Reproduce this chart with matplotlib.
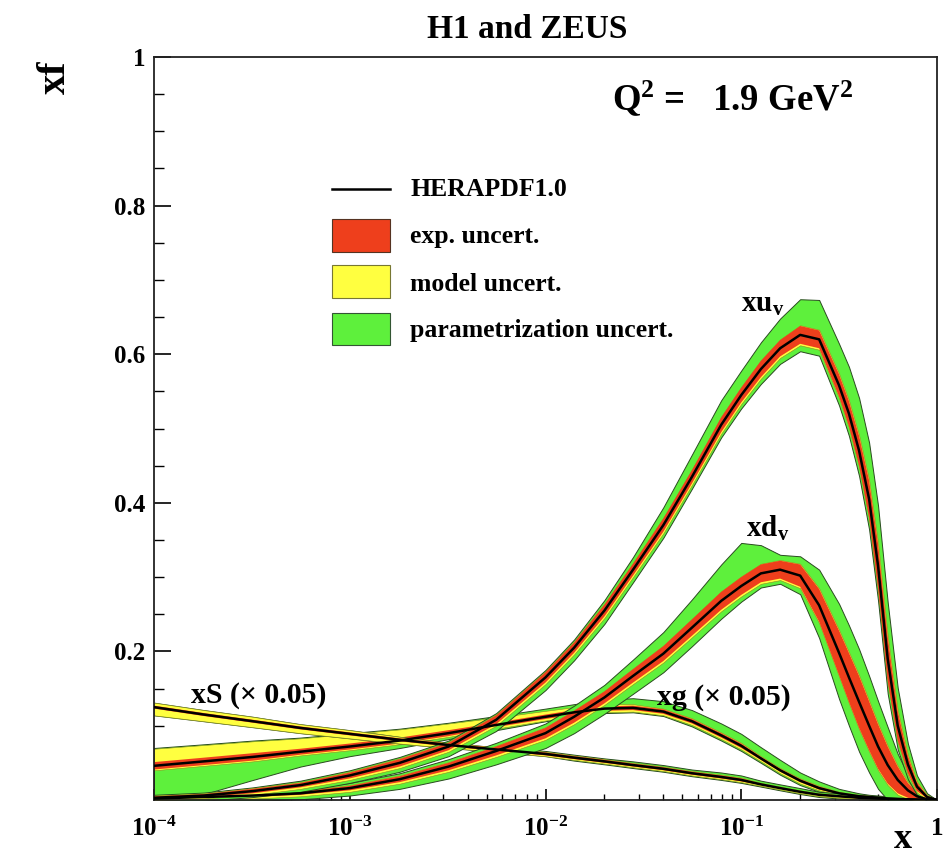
import numpy as np
import matplotlib
matplotlib.use('Agg')
import matplotlib.pyplot as plt
from matplotlib.ticker import FixedLocator, NullFormatter
from matplotlib.patches import Rectangle
from matplotlib.lines import Line2D

plt.rcParams['font.family'] = ['Liberation Serif', 'DejaVu Serif']
plt.rcParams['font.weight'] = 'bold'
plt.rcParams['mathtext.fontset'] = 'custom'
plt.rcParams['mathtext.rm'] = 'Liberation Serif:bold'
plt.rcParams['mathtext.bf'] = 'Liberation Serif:bold'
plt.rcParams['mathtext.it'] = 'Liberation Serif:bold'

# common x grid
x = [1e-4, 1.8e-4, 3.2e-4, 5.6e-4, 1e-3, 1.8e-3, 3.2e-3, 5.6e-3, 0.01, 0.014,
     0.02, 0.028, 0.04, 0.056, 0.079, 0.1, 0.126, 0.158, 0.2, 0.25,
     0.316, 0.355, 0.4, 0.45, 0.5, 0.56, 0.63, 0.71, 0.79, 0.89, 1.0]

# xu_v : central, exp. half width, model (up/down), parametrization (up/down)
uv = [.003, .006, .012, .02, .033, .05, .072, .108, .165, .205,
      .255, .31, .37, .435, .505, .545, .58, .608, .626, .62,
      .558, .52, .47, .405, .315, .19, .10, .048, .018, .004, 0]
uv_exp = [.002, .002, .003, .003, .004, .005, .005, .006, .007, .007,
          .008, .008, .009, .009, .01, .01, .011, .011, .012, .012,
          .015, .017, .02, .025, .03, .03, .02, .012, .006, .002, 0]
uv_mod_up = [.001] * 30 + [0]
uv_mod_dn = [.002] * 30 + [0]
uv_par_up = [.001, .001, .001, .002, .002, .002, .002, .002, .002, .003,
             .005, .008, .014, .02, .022, .022, .024, .028, .035, .04,
             .04, .045, .05, .05, .05, .045, .03, .015, .008, .002, 0]
uv_par_dn = [.002, .003, .003, .004, .004, .005, .006, .007, .008, .008,
             .008, .007, .006, .005, .005, .006, .007, .008, .008, .008,
             .01, .011, .012, .014, .015, .015, .01, .006, .003, .001, 0]

# xd_v
dv = [.002, .004, .006, .009, .016, .028, .045, .066, .09, .112,
      .138, .167, .197, .232, .268, .288, .305, .31, .302, .262,
      .198, .165, .132, .10, .072, .047, .027, .013, .005, .001, 0]
dv_exp = [.001, .001, .002, .002, .003, .004, .005, .006, .007, .008,
          .008, .009, .01, .011, .012, .012, .012, .012, .015, .022,
          .03, .033, .035, .033, .03, .025, .018, .01, .005, .002, 0]
dv_mod_up = [.001] * 30 + [0]
dv_mod_dn = [.002] * 30 + [0]
dv_par_up = [.001, .001, .002, .002, .003, .003, .004, .004, .005, .006,
             .008, .012, .018, .026, .036, .045, .025, .007, .01, .025,
             .035, .036, .035, .033, .03, .025, .016, .01, .004, .001, 0]
dv_par_dn = [.001, .002, .003, .004, .005, .007, .009, .01, .011, .012,
             .012, .013, .013, .012, .01, .007, .005, .005, .008, .02,
             .03, .03, .03, .028, .025, .02, .014, .008, .004, .001, 0]

# xg (x 0.05)
g = [.046, .052, .058, .065, .072, .080, .09, .101, .112, .118,
     .123, .124, .119, .106, .087, .073, .056, .04, .026, .016,
     .009, .007, .005, .004, .003, .002, .0015, .001, .0005, .0002, 0]
g_exp = [.005, .005, .005, .004, .004, .004, .004, .003, .003, .003,
         .003, .003, .003, .003, .003, .003, .002, .002, .002, .002,
         .001, .001, .001, .001, .001, .001, .001, .001, .0005, .0002, 0]
g_mod_up = [.018, .017, .016, .014, .013, .011, .009, .007, .005, .004,
            .003, .002] + [.001] * 18 + [0]
g_mod_dn = [.001] * 7 + [.002] * 12 + [.001] * 9 + [.0005, .0002, 0]
g_par_up = [.001, .001, .001, .001, .001, .001, .001, .002, .003, .004,
            .006, .008, .01, .011, .012, .012, .012, .011, .008, .006,
            .004, .003, .002, .001, .001, .001, 0, 0, 0, 0, 0]
g_par_dn = [.052, .038, .025, .015, .008, .005, .003, .002, .001, .001,
            .001, .001, .001, .002, .002, .002, .002, .002, .002, .002,
            .001, .001, .001, .001, .001, 0, 0, 0, 0, 0, 0]

# xS (x 0.05)
s = [.125, .115, .106, .097, .089, .081, .074, .068, .062, .057,
     .052, .047, .042, .036, .031, .027, .021, .016, .011, .007,
     .005, .004, .003, .0025, .002, .0015, .001, .0008, .0005, .0002, 0]
s_exp = [.002] * 16 + [.001] * 13 + [.0002, 0]
s_mod_up = [.004, .004, .004, .003, .003, .002] + [.001] * 24 + [0]
s_mod_dn = [.009, .007, .006, .005, .004, .003, .002] + [.001] * 19 + [.0005, .0005, .0003, .0001, 0]
s_par_up = [0, 0, 0, 0, 0, 0, 0, 0, .001, .001,
            .001, .002, .002, .002, .003, .003, .003, .003, .003, .002,
            .002, .002, .001, .001, .001, .001, 0, 0, 0, 0, 0]
s_par_dn = [0, 0, 0, 0, 0, 0, 0, 0, 0, .001,
            .001, .001, .001, .001, .001, .001, .001, .001, .001, .001,
            .001, .001, 0, 0, 0, 0, 0, 0, 0, 0, 0]

pdfs = [
    (g, g_exp, g_mod_up, g_mod_dn, g_par_up, g_par_dn),
    (s, s_exp, s_mod_up, s_mod_dn, s_par_up, s_par_dn),
    (dv, dv_exp, dv_mod_up, dv_mod_dn, dv_par_up, dv_par_dn),
    (uv, uv_exp, uv_mod_up, uv_mod_dn, uv_par_up, uv_par_dn),
]

GREEN = '#5ef03c'
YELLOW = '#ffff40'
RED = '#ee3f1c'

fig = plt.figure(figsize=(9.44, 8.59), dpi=100)
ax = fig.add_axes([154 / 944, 59 / 859, 783 / 944, 743 / 859])

xa = np.array(x)
for c, e, mu, md, pu, pd_ in pdfs:
    c, e, mu, md, pu, pd_ = map(np.array, (c, e, mu, md, pu, pd_))
    ax.fill_between(xa, c - e - md - pd_, c + e + mu + pu, facecolor=GREEN,
                    edgecolor='#2a4a20', linewidth=0.7, zorder=2)
    ax.fill_between(xa, c - e - md, c + e + mu, facecolor=YELLOW,
                    edgecolor='#8a8a20', linewidth=0.4, zorder=2)
    ax.fill_between(xa, c - e, c + e, facecolor=RED, edgecolor='none', zorder=2)
    ax.plot(xa, c, color='black', linewidth=1.8, zorder=3)

ax.set_xscale('log')
ax.set_xlim(1e-4, 1)
ax.set_ylim(0, 1)

# ticks (ROOT style, inside, only bottom and left)
ax.yaxis.set_major_locator(FixedLocator([0.2, 0.4, 0.6, 0.8, 1.0]))
ax.yaxis.set_minor_locator(FixedLocator(np.arange(0.05, 1.0, 0.05)))
ax.set_yticklabels(['0.2', '0.4', '0.6', '0.8', '1'])
ax.xaxis.set_major_locator(FixedLocator([1e-4, 1e-3, 1e-2, 1e-1, 1]))
ax.xaxis.set_minor_locator(FixedLocator([m * 10.0 ** d for d in range(-4, 0) for m in range(2, 10)]))
ax.xaxis.set_minor_formatter(NullFormatter())
ax.set_xticklabels([r'$\mathbf{10^{-4}}$', r'$\mathbf{10^{-3}}$', r'$\mathbf{10^{-2}}$',
                    r'$\mathbf{10^{-1}}$', r'$\mathbf{1}$'])
ax.tick_params(axis='y', which='major', direction='in', length=12, width=1.2,
               labelsize=18, pad=6)
ax.tick_params(axis='y', which='minor', direction='in', length=7, width=1.0)
ax.tick_params(axis='x', which='major', direction='in', length=8, width=1.2,
               labelsize=18, pad=12)
ax.tick_params(axis='x', which='minor', direction='in', length=4.5, width=1.0)
for sp in ax.spines.values():
    sp.set_linewidth(1.3)
    sp.set_color('#222222')

# labels
fig.text(527 / 944, 1 - 30 / 859, 'H1 and ZEUS', ha='center', va='center',
         fontsize=24, fontweight='bold')
fig.text(55 / 944, 1 - 77 / 859, 'xf', ha='center', va='center', rotation=90,
         fontsize=29, fontweight='bold')
fig.text(903 / 944, 1 - 848 / 859, 'x', ha='center', va='baseline',
         fontsize=26, fontweight='bold')
ax.text(0.585, 0.945, r'Q$^{\mathbf{2}}$ =   1.9 GeV$^{\mathbf{2}}$', transform=ax.transAxes,
        ha='left', va='center', fontsize=26.5)

ax.text(0.129, 0.667, r'xu$_{\mathbf{v}}$', ha='center', va='center', fontsize=21)
ax.text(0.137, 0.366, r'xd$_{\mathbf{v}}$', ha='center', va='center', fontsize=21)
ax.text(1.55e-4, 0.141, 'xS (× 0.05)', ha='left', va='center', fontsize=21.5)
ax.text(0.0373, 0.138, 'xg (× 0.05)', ha='left', va='center', fontsize=21.5)

# legend drawn by hand, in axes coordinates
lx0, lw = 0.227, 0.074
ax.add_line(Line2D([lx0, lx0 + lw], [0.822, 0.822], color='black', linewidth=1.8,
                   transform=ax.transAxes))
for yb, col, ec in [(0.738, RED, '#553322'), (0.676, YELLOW, '#777733'), (0.612, GREEN, '#335533')]:
    ax.add_patch(Rectangle((lx0, yb), lw, 0.044, facecolor=col, edgecolor=ec,
                           linewidth=0.8, transform=ax.transAxes))
for yt, txt in [(0.821, 'HERAPDF1.0'), (0.758, 'exp. uncert.'),
                (0.694, 'model uncert.'), (0.632, 'parametrization uncert.')]:
    ax.text(0.327, yt, txt, transform=ax.transAxes, ha='left', va='center', fontsize=18.5)

fig.savefig('out.png', dpi=100)
